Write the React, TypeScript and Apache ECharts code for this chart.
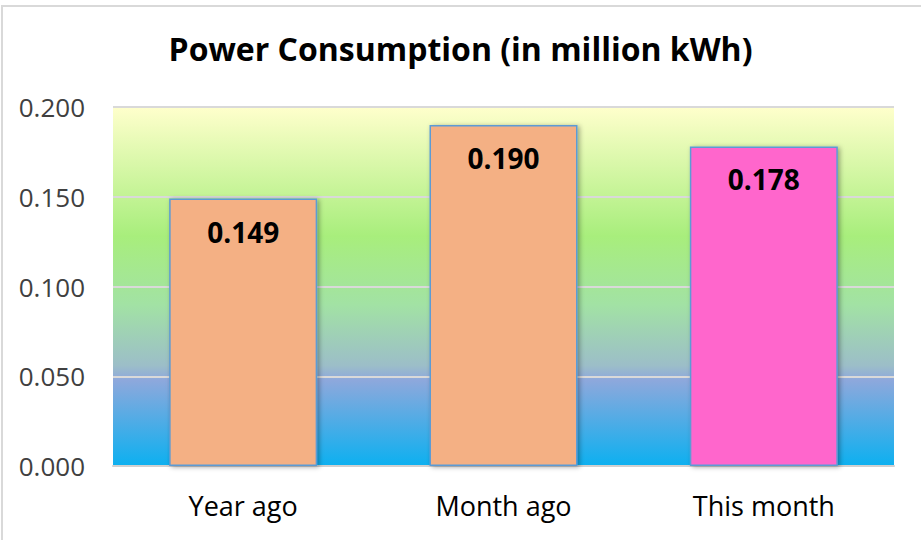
import React, { useEffect, useRef } from "react";
import * as echarts from "echarts";

const categories = ["Year ago", "Month ago", "This month"];
const values = [0.149, 0.19, 0.178];
const barColors = ["#f4b084", "#f4b084", "#ff66cc"];
const yTicks = { min: 0, max: 0.2, interval: 0.05 };
const title = "Power Consumption (in million kWh)";

const FONT = "'Open Sans', 'Noto Sans', sans-serif";

export default function App() {
  const ref = useRef<HTMLDivElement>(null);
  useEffect(() => {
    if (!ref.current) return;
    const chart = echarts.init(ref.current, undefined, { renderer: "svg" });
    chart.setOption({
      animation: false,
      backgroundColor: "#ffffff",
      title: {
        text: title,
        left: "center",
        top: 27,
        textStyle: { fontFamily: FONT, fontSize: 32, fontWeight: "bold", color: "#000" },
      },
      graphic: [
        {
          type: "rect",
          shape: { x: 2, y: 6, width: 940, height: 560 },
          style: { fill: "none", stroke: "#d9d9d9", lineWidth: 2 },
          silent: true,
        },
      ],
      grid: {
        left: 113,
        right: 27,
        top: 107,
        bottom: 74,
        show: true,
        borderWidth: 0,
        backgroundColor: new echarts.graphic.LinearGradient(0, 0, 0, 1, [
          { offset: 0, color: "#ffffcc" },
          { offset: 0.36, color: "#a8ee7c" },
          { offset: 0.55, color: "#a2e2a4" },
          { offset: 0.72, color: "#9cbec8" },
          { offset: 0.76, color: "#8ea8dc" },
          { offset: 1, color: "#0cb0f0" },
        ]),
      },
      xAxis: {
        type: "category",
        data: categories,
        axisLine: { lineStyle: { color: "#d0d0d0", width: 2 } },
        axisTick: { show: false },
        axisLabel: { fontFamily: FONT, fontSize: 27, color: "#000", margin: 26 },
      },
      yAxis: {
        type: "value",
        min: yTicks.min,
        max: yTicks.max,
        interval: yTicks.interval,
        axisLine: { show: false },
        axisTick: { show: false },
        splitLine: { lineStyle: { color: "#d9d9d9", width: 2 } },
        axisLabel: {
          fontFamily: FONT,
          fontSize: 26,
          color: "#404040",
          margin: 28,
          formatter: (v: number) => v.toFixed(3),
        },
      },
      series: [
        {
          type: "bar",
          barWidth: 148,
          data: values.map((v, i) => ({
            value: v,
            itemStyle: { color: barColors[i] },
          })),
          itemStyle: {
            borderColor: "#5b9bd5",
            borderWidth: 1.5,
            shadowBlur: 5,
            shadowColor: "rgba(0,0,0,0.35)",
            shadowOffsetX: 2,
            shadowOffsetY: 1,
          },
          label: {
            show: true,
            position: "insideTop",
            distance: 19,
            fontFamily: FONT,
            fontSize: 28,
            fontWeight: "bold",
            color: "#000",
            formatter: (p: any) => Number(p.value).toFixed(3),
          },
        },
      ],
    });
    return () => chart.dispose();
  }, []);
  return (
    <div
      ref={ref}
      style={{ position: "absolute", left: 0, top: 0, width: 921, height: 540 }}
    />
  );
}
